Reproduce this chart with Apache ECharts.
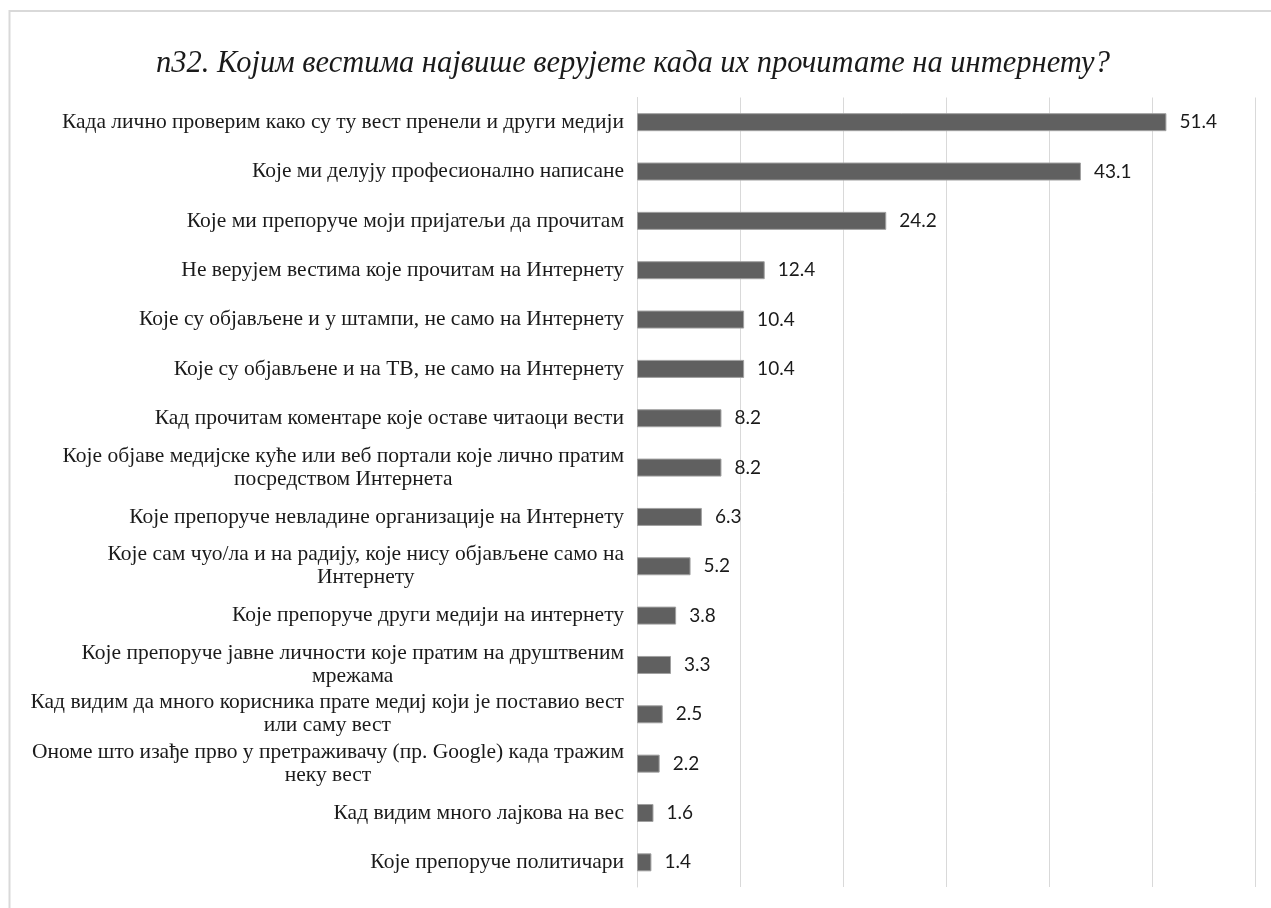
<!DOCTYPE html>
<html>
<head>
<meta charset="utf-8">
<script src="https://cdn.jsdelivr.net/npm/echarts@6/dist/echarts.min.js"></script>
<style>
  html, body { margin: 0; padding: 0; background: #ffffff; }
  #chart { width: 1271px; height: 908px; }
</style>
</head>
<body>
<div id="chart"></div>
<script>
// Survey question title
const titleText = 'п32. Којим вестима највише верујете када их прочитате на интернету?';

// Answer options, top to bottom (line breaks where the label wraps)
const categories = [
  'Када лично проверим како су ту вест пренели и други медији',
  'Које ми делују професионално написане',
  'Које ми препоруче моји пријатељи да прочитам',
  'Не верујем вестима које прочитам на Интернету',
  'Које су објављене и у штампи, не само на Интернету',
  'Које су објављене и на ТВ, не само на Интернету',
  'Кад прочитам коментаре које оставе читаоци вести',
  'Које објаве медијске куће или веб портали које лично пратим\nпосредством Интернета',
  'Које препоруче невладине организације на Интернету',
  'Које сам чуо/ла и на радију, које нису објављене само на\nИнтернету',
  'Које препоруче други медији на интернету',
  'Које препоруче јавне личности које пратим на друштвеним\nмрежама',
  'Кад видим да много корисника прате медиј који је поставио вест\nили саму вест',
  'Ономе што изађе прво у претраживачу (пр. Google) када тражим\nнеку вест',
  'Кад видим много лајкова на вес',
  'Које препоруче политичари'
];

// Share of respondents (%)
const values = [51.4, 43.1, 24.2, 12.4, 10.4, 10.4, 8.2, 8.2, 6.3, 5.2, 3.8, 3.3, 2.5, 2.2, 1.6, 1.4];

const chart = echarts.init(document.getElementById('chart'), null, { renderer: 'canvas' });

chart.setOption({
  backgroundColor: '#ffffff',
  animation: false,
  title: {
    text: titleText,
    left: 628,
    textAlign: 'center',
    top: 44,
    textStyle: {
      fontFamily: '"Liberation Serif", "DejaVu Serif", serif',
      fontStyle: 'italic',
      fontWeight: 'normal',
      fontSize: 30.5,
      color: '#1a1a1a'
    }
  },
  graphic: [{
    type: 'rect',
    shape: { x: 9.5, y: 11, width: 1400, height: 1000 },
    style: { fill: 'none', stroke: '#d9d9d9', lineWidth: 2 },
    silent: true
  }],
  grid: { left: 637, right: 16, top: 97.5, bottom: 21, containLabel: false },
  xAxis: {
    type: 'value',
    min: 0,
    max: 60,
    interval: 10,
    axisLabel: { show: false },
    axisTick: { show: false },
    axisLine: { show: false },
    splitLine: { show: true, lineStyle: { color: '#d9d9d9', width: 1 } }
  },
  yAxis: {
    type: 'category',
    data: categories,
    inverse: true,
    axisTick: { show: false },
    axisLine: { show: true, lineStyle: { color: '#d9d9d9', width: 1 } },
    axisLabel: {
      margin: 13,
      align: 'right',
      formatter: function (v) {
        return v.split('\n').map(function (s) { return '{c|' + s + '}'; }).join('\n');
      },
      rich: {
        c: {
          align: 'center',
          fontFamily: '"Liberation Serif", "DejaVu Serif", serif',
          fontSize: 21.5,
          lineHeight: 23,
          color: '#1a1a1a'
        }
      }
    }
  },
  series: [{
    type: 'bar',
    data: values,
    barWidth: 18,
    itemStyle: { color: '#606060', borderColor: '#a0a0a0', borderWidth: 1 },
    label: {
      show: true,
      position: 'right',
      distance: 13,
      fontFamily: 'Lato, "Liberation Sans", sans-serif',
      fontSize: 19,
      color: '#1a1a1a',
      formatter: function (p) { return p.value.toFixed(1); }
    }
  }]
});
</script>
</body>
</html>
